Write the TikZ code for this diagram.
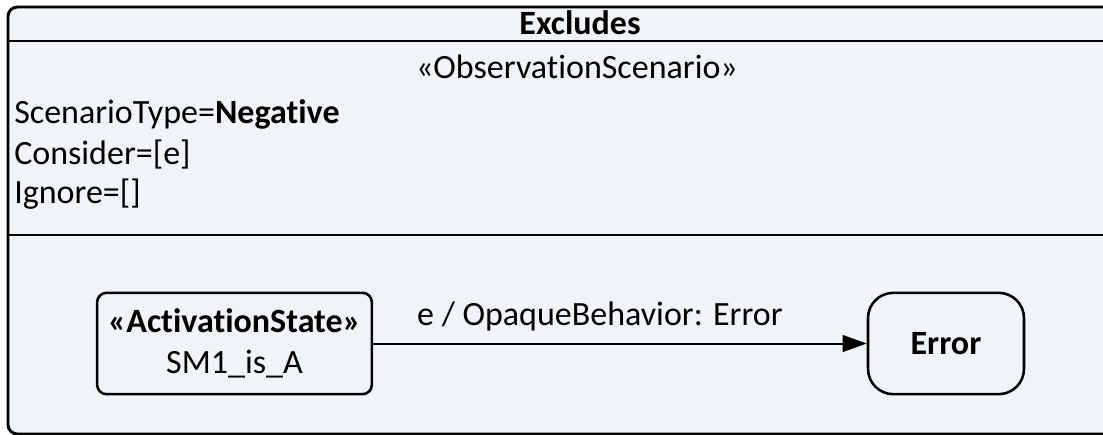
\documentclass[tikz,border=0pt]{standalone}
\usepackage{fontspec}
\setmainfont{Carlito}[Ligatures=NoCommon]
\usepackage{xcolor}
\usetikzlibrary{arrows.meta,positioning}
\definecolor{panel}{HTML}{F0F4F7}
\tikzset{
  frame/.style={draw, fill=panel, line width=2.2pt, rounded corners=7pt},
  divider/.style={line width=2.2pt},
  txt/.style={inner sep=0pt, anchor=base west},
  state/.style={draw, line width=1.9pt, inner sep=0pt, align=center,
    minimum height=76pt},
  trans/.style={-{Triangle[length=18pt,width=12.5pt]}, line width=1.5pt}
}
\newcommand{\diafont}{\fontsize{25.5pt}{30.75pt}\selectfont}

\begin{document}
\begin{tikzpicture}[x=0.75pt, y=-0.75pt, font=\diafont]
  \useasboundingbox (0,0) rectangle (1103,435);
  \clip (0,0) rectangle (1103,435);
  % outer frame with the two compartments
  \draw[frame] (8,7) rectangle (1153,434);
  \draw[divider] (8,41) -- (1153,41);
  \draw[divider] (8,235) -- (1153,235);
  \node[inner sep=0pt, anchor=base] (title) at (580,35) {\textbf{Excludes}};
  \node[inner sep=0pt, anchor=base] (stereo) at (577,79) {«ObservationScenario»};
  \node[txt] (type) at (14,123) {ScenarioType=\textbf{Negative}};
  \node[txt] (consider) at (14,164) {Consider=[e]};
  \node[txt] (ignore) at (14,203) {Ignore=[]};
  % states
  \node[state, rounded corners=7pt, minimum width=206pt] (active) at (234.5,343.5)
    {\textbf{«ActivationState»}\\SM1\_is\_A};
  \node[state, rounded corners=19pt, minimum width=117pt] (error) at (946,343.5)
    {\textbf{Error}};
  \draw[trans] (active) -- node[above=9pt, inner sep=0pt, xshift=-15pt] {e / OpaqueBehavior: Error} (error);
\end{tikzpicture}
\end{document}
